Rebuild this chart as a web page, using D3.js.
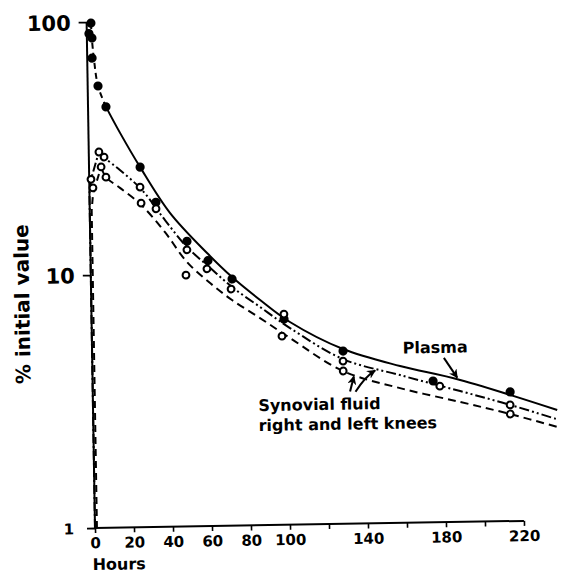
<!DOCTYPE html>
<html><head><meta charset="utf-8">
<script src="https://cdn.jsdelivr.net/npm/d3@7"></script>
<style>body{margin:0;background:#fff}</style>
</head><body>
<svg id="c" width="563" height="573"></svg>
<script>
// ---- data (hours, % initial value) ----
const xTicks = [0,20,40,60,80,100,120,140,160,180,200,220];
const xTickLabels = ["0","20","40","60","80","100","","140","","180","","220"];
const yTicks = [1,10,100];
const yTickLabels = ["1","10","100"];

const plasmaPoints = [[1.1,90],[2.2,99],[2.6,86.4],[2.5,72],[5.3,55.8],[9.2,46.1],[26.2,26.5],[34,19.2],[49.6,13.4],[60.2,11.2],[72.4,9.44],[98.7,6.5],[128.7,4.82],[174.6,3.62],[214,3.24]];
const rightKneePoints = [[0.9,23.9],[5.2,30.6],[7.8,29.2],[26,22.1],[34,18.1],[49.5,12.4],[59.6,10.4],[98.7,6.81],[128.6,4.40],[178,3.45],[213.9,2.88]];
const leftKneePoints = [[1.85,22.1],[6.2,26.7],[8.6,24.3],[26.4,19.1],[48.8,9.85],[71.8,8.62],[97.5,5.57],[128.6,4.02],[213.9,2.65]];

const plasmaEarlyCurve = [[2.2,99],[2.6,84.9],[3.5,70.7],[5.3,55.8],[9.2,46.1]];
const plasmaCurve = [[9.2,46.1],[16.2,36.3],[26.2,26.5],[41.1,17.4],[59.8,12.0],[72.4,9.61],[86.6,7.77],[101.7,6.33],[128.7,4.91],[157.8,4.17],[188.5,3.64],[238,2.73]];
const rightKneeRise = [[0,1],[0,21],[0.9,23.9],[5.2,30.6]];
const rightKneeCurve = [[5.2,30.6],[8.3,28.9],[15.8,25.9],[27.0,21.5],[38.5,16.3],[49.6,12.7],[61.2,10.5],[72.3,8.78],[86.5,7.29],[101.7,5.99],[128.6,4.48],[157.7,3.84],[188.4,3.29],[213.9,2.88],[237.8,2.51]];
const leftKneeRise = [[1,1],[1,18],[1.85,21],[6.2,26.7]];
const leftKneeCurve = [[6.2,26.7],[8.6,24.3],[15.7,22.0],[26.4,18.8],[38.4,14.6],[49.4,11.1],[61.1,9.13],[72.2,7.80],[86.4,6.59],[101.6,5.47],[128.5,4.02],[157.6,3.41],[188.3,2.98],[213.8,2.65],[237.8,2.34]];

// ---- layout ----
const x0 = 95, y0 = 528;
const x = d3.scaleLinear().domain([0,220]).range([x0, 524]);
const y = d3.scaleLog().domain([1,100]).range([y0, 22]);

const svg = d3.select("#c");
svg.append("rect").attr("width",563).attr("height",573).attr("fill","#fff");
const defs = svg.append("defs");
defs.append("marker").attr("id","ah").attr("viewBox","0 0 10 10")
  .attr("refX",9).attr("refY",5).attr("markerWidth",9).attr("markerHeight",9)
  .attr("markerUnits","userSpaceOnUse").attr("orient","auto")
  .append("path").attr("d","M0,0 L10,5 L0,10 L3,5 z").attr("fill","#000");

const g = svg.append("g").attr("transform",`rotate(-0.95,${x0},${y0})`);
const FONT = "DejaVu Sans, sans-serif";

// axes
const xAxis = d3.axisBottom(x).tickValues(xTicks).tickSize(5).tickFormat((d,i)=>xTickLabels[i]);
const xg = g.append("g").attr("transform",`translate(0,${y0})`).call(xAxis);
xg.select(".domain").attr("stroke","#000").attr("stroke-width",2).attr("d",`M${x0},0H${x(220)}`);
xg.selectAll(".tick line").attr("stroke","#000").attr("stroke-width",1.6);
xg.selectAll(".tick text").attr("font-family",FONT).attr("font-size",15).attr("font-weight","bold")
  .attr("fill","#000").attr("dy","0.95em").attr("y",6);

const yAxis = d3.axisLeft(y).tickValues(yTicks).tickSize(8).tickFormat((d,i)=>yTickLabels[i]);
const yg = g.append("g").attr("transform",`translate(${x0},0)`).call(yAxis);
yg.select(".domain").attr("stroke","#000").attr("stroke-width",2).attr("d",`M0,${y0}V${y(100)}`);
yg.selectAll(".tick line").attr("stroke","#000").attr("stroke-width",1.8);
yg.selectAll(".tick text").attr("font-family",FONT).attr("fill","#000").attr("font-weight","bold")
  .attr("font-size",d=>d===1?15:21).attr("x",d=>d===1?-21:-16).attr("dy","0.36em");

// curves
const line = d3.line().x(d=>x(d[0])).y(d=>y(d[1])).curve(d3.curveCatmullRom.alpha(0.5));
const lin = d3.line().x(d=>x(d[0])).y(d=>y(d[1]));
function drawPath(data, gen, dash){
  g.append("path").datum(data).attr("d",gen).attr("fill","none").attr("stroke","#000")
   .attr("stroke-width",2).attr("stroke-dasharray",dash||null);
}
drawPath(plasmaEarlyCurve, line, "6,4");
drawPath(plasmaCurve, line, null);
drawPath(rightKneeRise, lin, "9,3,2,3");
drawPath(rightKneeCurve, line, "10,3,2,3,2,3");
drawPath(leftKneeRise, lin, "7,5");
drawPath(leftKneeCurve, line, "8,5");

// points
g.selectAll(".pp").data(plasmaPoints).join("circle").attr("class","pp")
  .attr("cx",d=>x(d[0])).attr("cy",d=>y(d[1])).attr("r",4.6).attr("fill","#000");
g.selectAll(".sp").data(rightKneePoints.concat(leftKneePoints)).join("circle").attr("class","sp")
  .attr("cx",d=>x(d[0])).attr("cy",d=>y(d[1])).attr("r",3.4).attr("fill","#fff")
  .attr("stroke","#000").attr("stroke-width",2);

// annotations
function txt(s,px,py){return g.append("text").attr("x",px).attr("y",py).text(s).attr("fill","#000")
  .attr("font-family",FONT).attr("font-weight","bold").attr("font-size",16);}
const pTip = [x(187), y(3.72)];
g.append("path").attr("d",`M${pTip[0]-13},${pTip[1]-20}L${pTip[0]},${pTip[1]}`)
  .attr("stroke","#000").attr("stroke-width",2).attr("fill","none").attr("marker-end","url(#ah)");
txt("Plasma", pTip[0]-54, pTip[1]-25);

const s1 = [x(134), y(3.82)];
const s2 = [x(145), y(4.02)];
g.append("path").attr("d",`M${s1[0]-4},${s1[1]+15}L${s1[0]},${s1[1]}`)
  .attr("stroke","#000").attr("stroke-width",2).attr("fill","none").attr("marker-end","url(#ah)");
g.append("path").attr("d",`M${s2[0]-20},${s2[1]+21}Q${s2[0]-10},${s2[1]+6} ${s2[0]},${s2[1]}`)
  .attr("stroke","#000").attr("stroke-width",2).attr("fill","none").attr("marker-end","url(#ah)");
txt("Synovial fluid", s1[0]-96, s1[1]+33);
txt("right and left knees", s1[0]-96, s1[1]+53);

// axis titles
g.append("text").attr("x",x0-3).attr("y",y0+42).text("Hours")
  .attr("font-family",FONT).attr("font-weight","bold").attr("font-size",16).attr("fill","#000");
g.append("text").attr("transform","translate(33,303) rotate(-90)").attr("text-anchor","middle")
  .text("% initial value").attr("font-family",FONT).attr("font-size",20)
  .attr("font-weight","bold").attr("fill","#000");
</script>
</body></html>
